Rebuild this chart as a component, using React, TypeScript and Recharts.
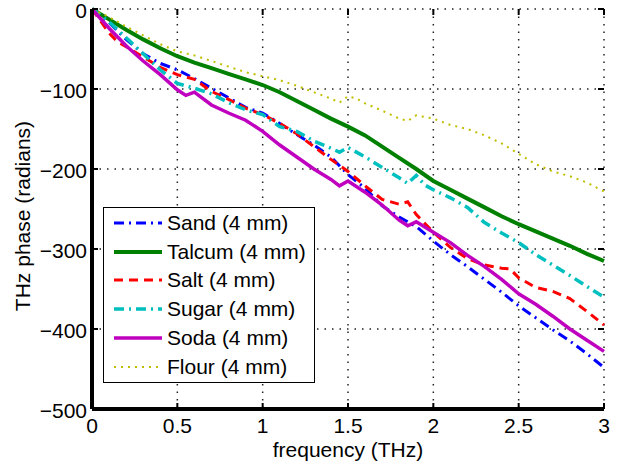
import React from 'react'
import { LineChart, Line, XAxis, YAxis, CartesianGrid } from 'recharts'

// frequency (THz) / phase (radians) per sample
const sandFreq = [0, 0.1, 0.2, 0.3, 0.4, 0.5, 0.6, 0.7, 0.8, 0.9, 1.0, 1.1, 1.2, 1.3, 1.4, 1.5, 1.6, 1.7, 1.8, 1.9, 2.0, 2.1, 2.2, 2.3, 2.4, 2.5, 2.6, 2.7, 2.8, 2.9, 3.0]
const sandPhase = [0, -17, -38, -56, -68, -76, -87, -99, -111, -123, -130, -143, -157, -170, -185, -207, -224, -246, -260, -272, -290, -307, -322, -338, -354, -371, -386, -401, -415, -431, -448]

const talcumFreq = [0, 0.1, 0.2, 0.3, 0.4, 0.5, 0.6, 0.7, 0.8, 0.9, 1.0, 1.1, 1.2, 1.3, 1.4, 1.5, 1.6, 1.7, 1.8, 1.9, 2.0, 2.1, 2.2, 2.3, 2.4, 2.5, 2.6, 2.7, 2.8, 2.9, 3.0]
const talcumPhase = [0, -13, -26, -38, -49, -59, -67, -74, -81, -88, -95, -104, -115, -126, -137, -147, -158, -172, -186, -200, -215, -226, -237, -248, -259, -269, -278, -287, -296, -306, -315]

const saltFreq = [0, 0.05, 0.1, 0.15, 0.2, 0.3, 0.4, 0.5, 0.6, 0.7, 0.8, 0.9, 1.0, 1.1, 1.2, 1.3, 1.4, 1.5, 1.6, 1.7, 1.8, 1.85, 1.9, 2.0, 2.1, 2.2, 2.3, 2.4, 2.45, 2.5, 2.6, 2.7, 2.8, 2.9, 3.0]
const saltPhase = [0, -15, -30, -41, -47, -60, -73, -82, -88, -103, -113, -124, -132, -143, -156, -172, -188, -203, -221, -238, -244, -241, -257, -279, -298, -312, -320, -324, -325, -336, -348, -353, -362, -378, -395]

const sugarFreq = [0, 0.1, 0.2, 0.3, 0.4, 0.5, 0.6, 0.7, 0.8, 0.9, 1.0, 1.1, 1.2, 1.3, 1.4, 1.45, 1.5, 1.6, 1.7, 1.8, 1.85, 1.9, 1.95, 2.0, 2.1, 2.2, 2.3, 2.4, 2.5, 2.6, 2.7, 2.8, 2.9, 3.0]
const sugarPhase = [0, -16, -36, -56, -76, -93, -99, -106, -117, -126, -132, -147, -153, -165, -174, -179, -173, -185, -198, -211, -218, -208, -220, -226, -236, -248, -267, -280, -292, -307, -320, -333, -347, -360]

const sodaFreq = [0, 0.1, 0.2, 0.3, 0.4, 0.5, 0.55, 0.6, 0.7, 0.8, 0.9, 1.0, 1.1, 1.2, 1.3, 1.4, 1.45, 1.5, 1.6, 1.7, 1.8, 1.85, 1.9, 2.0, 2.1, 2.2, 2.3, 2.4, 2.5, 2.6, 2.7, 2.8, 2.9, 3.0]
const sodaPhase = [0, -24, -46, -65, -82, -101, -108, -104, -120, -130, -139, -153, -170, -185, -200, -213, -221, -215, -229, -245, -264, -271, -266, -279, -292, -308, -322, -338, -356, -369, -384, -400, -414, -428]

const flourFreq = [0, 0.1, 0.2, 0.3, 0.4, 0.5, 0.6, 0.7, 0.8, 0.9, 1.0, 1.1, 1.2, 1.3, 1.4, 1.45, 1.5, 1.55, 1.6, 1.7, 1.8, 1.85, 1.9, 2.0, 2.1, 2.2, 2.3, 2.4, 2.5, 2.6, 2.7, 2.8, 2.9, 3.0]
const flourPhase = [0, -10, -22, -33, -44, -53, -58, -65, -72, -79, -84, -89, -96, -104, -112, -117, -109, -112, -118, -127, -137, -140, -133, -137, -145, -150, -158, -168, -181, -194, -203, -209, -217, -228]

const xTicks = [0, 0.5, 1, 1.5, 2, 2.5, 3]
const yTicks = [0, -100, -200, -300, -400, -500]

const zip = (f: number[], p: number[]) => f.map((v, i) => ({ f: v, p: p[i] }))

const series = [
  { name: 'Sand (4 mm)', data: zip(sandFreq, sandPhase), color: '#0000ff', width: 3, dash: '10 5 2 5' },
  { name: 'Talcum (4 mm)', data: zip(talcumFreq, talcumPhase), color: '#008000', width: 4, dash: undefined },
  { name: 'Salt (4 mm)', data: zip(saltFreq, saltPhase), color: '#ff0000', width: 3, dash: '9 6' },
  { name: 'Sugar (4 mm)', data: zip(sugarFreq, sugarPhase), color: '#00bfbf', width: 3.5, dash: '10 5 2 5' },
  { name: 'Soda (4 mm)', data: zip(sodaFreq, sodaPhase), color: '#bf00bf', width: 3.5, dash: undefined },
  { name: 'Flour (4 mm)', data: zip(flourFreq, flourPhase), color: '#bfbf00', width: 2, dash: '2 5' },
]

const W = 622
const H = 469
const LEFT = 92
const RIGHT = 604
const TOP = 9
const BOTTOM = 409
const FONT = '"Liberation Sans", Arial, Helvetica, sans-serif'
const FS = 21

const fmtY = (v: number) => (v === 0 ? '0' : '\u2212' + Math.abs(v))

const BottomTick = (props: any) => {
  const { x, payload } = props
  return (
    <g>
      <line x1={x} y1={BOTTOM} x2={x} y2={BOTTOM - 6} stroke="#000" strokeWidth={2} />
      <line x1={x} y1={TOP} x2={x} y2={TOP + 6} stroke="#000" strokeWidth={2} />
      <text x={x} y={BOTTOM + 24} textAnchor="middle" fontSize={FS} fontFamily={FONT} fill="#000">
        {payload.value}
      </text>
    </g>
  )
}

const LeftTick = (props: any) => {
  const { y, payload } = props
  return (
    <g>
      <line x1={LEFT} y1={y} x2={LEFT + 6} y2={y} stroke="#000" strokeWidth={2} />
      <line x1={RIGHT} y1={y} x2={RIGHT - 6} y2={y} stroke="#000" strokeWidth={2} />
      <text x={LEFT - 5} y={y + 9} textAnchor="end" fontSize={FS} fontFamily={FONT} fill="#000">
        {fmtY(payload.value)}
      </text>
    </g>
  )
}

function ChartLegend() {
  return (
    <div
      style={{
        position: 'absolute',
        left: 103,
        top: 207,
        width: 212,
        height: 176,
        border: '1px solid #000',
        background: '#fff',
        fontFamily: FONT,
        fontSize: FS,
        boxSizing: 'border-box',
      }}
    >
      {series.map((s, i) => (
        <div key={s.name} style={{ position: 'absolute', left: 0, top: 1 + i * 28.7, height: 28, display: 'flex', alignItems: 'center' }}>
          <svg width={62} height={28} style={{ display: 'block' }}>
            <line x1={10} y1={14} x2={58} y2={14} stroke={s.color} strokeWidth={s.width} strokeDasharray={s.dash} />
          </svg>
          <span style={{ whiteSpace: 'nowrap', marginLeft: 1 }}>{s.name}</span>
        </div>
      ))}
    </div>
  )
}

export default function App() {
  return (
    <div style={{ position: 'absolute', left: 0, top: 0, width: W, height: H, background: '#fff' }}>
      <LineChart
        width={W}
        height={H}
        margin={{ top: TOP, right: W - RIGHT, left: LEFT - 60, bottom: H - BOTTOM - 30 }}
      >
        <CartesianGrid stroke="#222" strokeDasharray="1.5 6" strokeWidth={1.5} />
        <XAxis
          dataKey="f"
          type="number"
          domain={[0, 3]}
          ticks={xTicks}
          allowDuplicatedCategory={false}
          height={30}
          tickSize={0}
          tickMargin={0}
          tickLine={false}
          axisLine={{ stroke: '#000', strokeWidth: 4 }}
          tick={<BottomTick />}
          interval={0}
        />
        <XAxis xAxisId="top" orientation="top" type="number" domain={[0, 3]} height={0} tick={false} tickLine={false} axisLine={{ stroke: '#000', strokeWidth: 4 }} />
        <YAxis
          type="number"
          domain={[-500, 0]}
          ticks={yTicks}
          width={60}
          tickSize={0}
          tickMargin={0}
          tickLine={false}
          axisLine={{ stroke: '#000', strokeWidth: 4 }}
          tick={<LeftTick />}
          interval={0}
        />
        <YAxis yAxisId="right" orientation="right" type="number" domain={[-500, 0]} width={0} tick={false} tickLine={false} axisLine={{ stroke: '#000', strokeWidth: 4 }} />
        {series.map((s) => (
          <Line
            key={s.name}
            data={s.data}
            dataKey="p"
            name={s.name}
            type="linear"
            stroke={s.color}
            strokeWidth={s.width}
            strokeDasharray={s.dash}
            dot={false}
            activeDot={false}
            isAnimationActive={false}
          />
        ))}
      </LineChart>
      <div style={{ position: 'absolute', left: 0, top: 0, width: W, height: H, pointerEvents: 'none' }}>
        <div style={{ position: 'absolute', left: 0, top: 438, width: LEFT + RIGHT, textAlign: 'center', fontFamily: FONT, fontSize: FS, lineHeight: '24px' }}>
          frequency (THz)
        </div>
        <div
          style={{
            position: 'absolute',
            left: 23,
            top: 216,
            transform: 'translate(-50%, -50%) rotate(-90deg)',
            whiteSpace: 'nowrap',
            fontFamily: FONT,
            fontSize: FS,
            lineHeight: '24px',
          }}
        >
          THz phase (radians)
        </div>
      </div>
      <ChartLegend />
    </div>
  )
}
